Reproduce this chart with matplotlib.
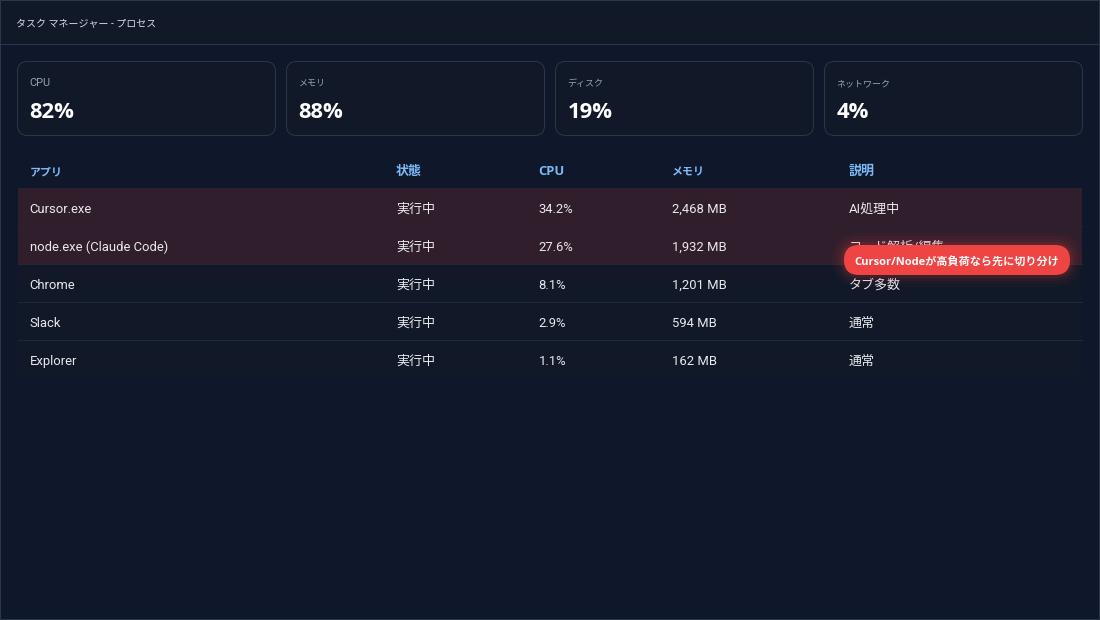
import matplotlib
matplotlib.use('Agg')
import matplotlib.pyplot as plt
from matplotlib.patches import FancyBboxPatch, Rectangle

plt.rcParams['font.family'] = ['Roboto', 'Noto Sans CJK JP', 'DejaVu Sans']
BOLD_FONT = ['Open Sans', 'Noto Sans CJK JP', 'DejaVu Sans']

title = 'タスク マネージャー - プロセス'
metric_names = ['CPU', 'メモリ', 'ディスク', 'ネットワーク']
metric_values = [82, 88, 19, 4]
headers = ['アプリ', '状態', 'CPU', 'メモリ', '説明']
apps = ['Cursor.exe', 'node.exe (Claude Code)', 'Chrome', 'Slack', 'Explorer']
states = ['実行中', '実行中', '実行中', '実行中', '実行中']
cpu = [34.2, 27.6, 8.1, 2.9, 1.1]
mem = [2468, 1932, 1201, 594, 162]
notes = ['AI処理中', 'コード解析/編集', 'タブ多数', '通常', '通常']
hot = [True, True, False, False, False]
callout = 'Cursor/Nodeが高負荷なら先に切り分け'

BG = '#0f172a'
PANEL = '#111827'
LINE = '#2b3648'
HOT = '#311e2c'
HOT_LINE = '#2a2430'
ROW_LINE = '#1f2937'
BLUE = '#7dbbf7'
TEXT = '#e8eaee'
px = 100 / 72  # pixels per point at dpi 100


def fs(size):
    return size / px


fig = plt.figure(figsize=(11, 6.2), dpi=100, facecolor=BG)
ax = fig.add_axes([0, 0, 1, 1])
ax.set_xlim(0, 1100)
ax.set_ylim(620, 0)
ax.axis('off')

# window frame and title bar
ax.add_patch(Rectangle((0, 0), 1100, 44, fc=PANEL, ec='none', zorder=1))
ax.plot([0, 1100], [43.5, 43.5], color=LINE, lw=1 / px, zorder=2)
ax.add_patch(Rectangle((0.5, 0.5), 1099, 619, fc='none', ec=LINE, lw=1 / px,
                       zorder=6, snap=False))
# kana in the reference are set tight, so the size is brought down to its width
ax.text(16.5, 27, title, color='#d5dbe5', fontsize=fs(10), va='baseline', zorder=3)

# metric cards
card_x = [17.5, 286.5, 555.5, 824.5]
label_size = [11, 9, 9, 9]
for x, name, val, ls in zip(card_x, metric_names, metric_values, label_size):
    ax.add_patch(FancyBboxPatch((x + 10, 71.5), 238, 54,
                                boxstyle='round,pad=10,rounding_size=10',
                                fc=PANEL, ec=LINE, lw=1 / px, zorder=2))
    ax.text(x + 12, 86, name, color='#94a3b8', fontsize=fs(ls), va='baseline', zorder=3)
    ax.text(x + 12, 117.5, f'{val}%', color='white', fontsize=fs(22),
            fontweight='bold', family=BOLD_FONT, va='baseline', zorder=3)

# table
col_x = [29.5, 396, 538.5, 672, 849]
header_size = [11, 13, 13, 11, 13]
for x, h, hs in zip(col_x, headers, header_size):
    ax.text(x, 175, h, color=BLUE, fontsize=fs(hs), fontweight='bold',
            family=BOLD_FONT, va='baseline', zorder=3)

row_top = 188
row_h = 38
for i, app in enumerate(apps):
    y0 = row_top + i * row_h
    ax.add_patch(Rectangle((18, y0), 1064, row_h,
                           fc=HOT if hot[i] else PANEL, ec='none', zorder=1))
    if i < len(apps) - 1:
        ax.plot([18, 1082], [y0 + row_h - 0.5] * 2,
                color=HOT_LINE if hot[i] else ROW_LINE, lw=1 / px, zorder=2)
    cells = [app, states[i], f'{cpu[i]}%', f'{mem[i]:,} MB', notes[i]]
    for x, c in zip(col_x, cells):
        ax.text(x, y0 + 25, c, color=TEXT, fontsize=fs(13), va='baseline', zorder=3)

# callout pill with soft glow
for grow, alpha in [(12, 0.03), (9, 0.04), (6, 0.06), (3, 0.10)]:
    ax.add_patch(FancyBboxPatch((859, 260), 196, 0,
                                boxstyle=f'round,pad={15 + grow},rounding_size={15 + grow}',
                                fc='#ef4444', ec='none', alpha=alpha, zorder=4))
ax.add_patch(FancyBboxPatch((859, 260), 196, 0,
                            boxstyle='round,pad=15,rounding_size=15',
                            fc='#ef4444', ec='none', zorder=5))
ax.text(957, 264.5, callout, color='white', fontsize=fs(11.1), fontweight='bold',
        family=BOLD_FONT, ha='center', va='baseline', zorder=7)

fig.savefig('out.png', dpi=100, facecolor=BG)
